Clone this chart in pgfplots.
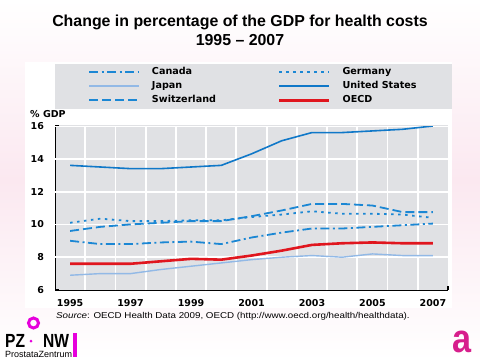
\documentclass[border=0pt]{standalone}
\usepackage{pgfplots}
\pgfplotsset{compat=1.18}
\usepackage{fontspec}
\setmainfont{Liberation Sans}
\newfontfamily\chartfont{DejaVu Sans}
\newfontfamily\srcfont[FakeStretch=1.15]{Liberation Sans}
\definecolor{cblue}{RGB}{27,135,212}
\definecolor{usblue}{RGB}{16,120,200}
\definecolor{jblue}{RGB}{146,185,230}
\definecolor{ored}{RGB}{224,22,30}
\definecolor{plotbg}{RGB}{224,225,228}
\definecolor{pinkbg}{RGB}{251,232,240}
\definecolor{logomag}{RGB}{230,0,220}
\definecolor{logopink}{RGB}{215,30,140}
\begin{document}
\begin{tikzpicture}
\useasboundingbox (0,0) rectangle (480pt,360pt);
\shade[top color=white, bottom color=white, middle color=pinkbg] (0,0) rectangle (480pt,360pt);
\fill[white] (25pt,52pt) rectangle (452pt,298pt);
\fill[plotbg] (55pt,70pt) rectangle (448pt,234.7pt);
\node[anchor=base, inner sep=0pt, font=\fontsize{15.9}{18}\selectfont\bfseries] at (240pt,333.3pt) {Change in percentage of the GDP for health costs};
\node[anchor=base, inner sep=0pt, font=\fontsize{15.9}{18}\selectfont\bfseries] at (240pt,315pt) {1995 – 2007};
\node[anchor=west, inner sep=0pt, font=\chartfont\bfseries\fontsize{9.5}{11}\selectfont] at (30pt,246pt) {\%~GDP};
\begin{axis}[
  at={(55pt,70pt)}, anchor=south west, scale only axis,
  width=393pt, height=164pt,
  xmin=1994.5, xmax=2007.5, ymin=6, ymax=16,
  axis x line*=bottom, axis y line*=left,
  axis line style={black, line width=1pt},
  xtick={1995.5,1996.5,1997.5,1998.5,1999.5,2000.5,2001.5,2002.5,2003.5,2004.5,2005.5,2006.5,2007.5},
  xticklabels={1995,,1997,,1999,,2001,,2003,,2005,,2007},
  ytick={6,8,10,12,14,16}, yticklabels={6,8,10,12,14,16},
  tick align=inside, major tick length=4.5pt,
  tick style={black, line width=1.2pt},
  ticklabel style={font=\chartfont\bfseries\fontsize{9.5}{11}\selectfont},
  xticklabel style={xshift=-15.1pt, yshift=-6pt},
  yticklabel style={xshift=-7.5pt},
  legend columns=2,
  legend cell align=left,
  legend image code/.code={\draw[#1] (0pt,0pt) -- (50pt,0pt);},
  legend style={at={(0,1)}, anchor=north west, yshift=62.7pt, fill=plotbg, draw=none,
    inner xsep=33pt, inner ysep=3.8pt,
    font=\chartfont\bfseries\fontsize{9.6}{11}\selectfont,
    nodes={inner sep=0pt, text height=7pt, text depth=2pt},
    row sep=5.2pt,
    /tikz/every odd column/.append style={column sep=12pt},
    /tikz/every even column/.append style={column sep=16pt}},
]
\pgfplotsinvokeforeach{1995.5,1996.5,1997.5,1998.5,1999.5,2000.5,2001.5,2002.5,2003.5,2004.5,2005.5,2006.5}{
  \draw[white, line width=1.8pt] (axis cs:#1,6) -- (axis cs:#1,16);}
\pgfplotsinvokeforeach{8,10,12,14,16}{
  \draw[white, line width=1.8pt] (axis cs:1994.5,#1) -- (axis cs:2007.5,#1);}
\addplot[cblue, line width=1.8pt, dash pattern=on 9pt off 3.5pt on 2pt off 3.5pt] coordinates {
(1995,9.0) (1996,8.8) (1997,8.8) (1998,8.9) (1999,8.95) (2000,8.8) (2001,9.2) (2002,9.5) (2003,9.75) (2004,9.75) (2005,9.85) (2006,9.95) (2007,10.05)};
\addlegendentry{\makebox[110pt][l]{Canada}}
\addplot[cblue, line width=1.8pt, dash pattern=on 2.5pt off 4.5pt] coordinates {
(1995,10.1) (1996,10.35) (1997,10.2) (1998,10.2) (1999,10.25) (2000,10.25) (2001,10.45) (2002,10.6) (2003,10.8) (2004,10.65) (2005,10.65) (2006,10.6) (2007,10.4)};
\addlegendentry{\makebox[76pt][l]{Germany}}
\addplot[jblue, line width=1.4pt] coordinates {
(1995,6.9) (1996,7.0) (1997,7.0) (1998,7.25) (1999,7.45) (2000,7.65) (2001,7.85) (2002,8.0) (2003,8.1) (2004,8.0) (2005,8.2) (2006,8.1) (2007,8.1)};
\addlegendentry{\makebox[110pt][l]{Japan}}
\addplot[usblue, line width=1.6pt] coordinates {
(1995,13.6) (1996,13.5) (1997,13.4) (1998,13.4) (1999,13.5) (2000,13.6) (2001,14.3) (2002,15.1) (2003,15.6) (2004,15.6) (2005,15.7) (2006,15.8) (2007,16.0)};
\addlegendentry{\makebox[76pt][l]{United States}}
\addplot[cblue, line width=1.8pt, dash pattern=on 9pt off 4pt] coordinates {
(1995,9.6) (1996,9.85) (1997,10.0) (1998,10.1) (1999,10.2) (2000,10.2) (2001,10.5) (2002,10.85) (2003,11.25) (2004,11.25) (2005,11.15) (2006,10.75) (2007,10.75)};
\addlegendentry{\makebox[110pt][l]{Switzerland}}
\addplot[ored, line width=2.6pt] coordinates {
(1995,7.6) (1996,7.6) (1997,7.6) (1998,7.75) (1999,7.9) (2000,7.85) (2001,8.1) (2002,8.4) (2003,8.75) (2004,8.85) (2005,8.9) (2006,8.85) (2007,8.85)};
\addlegendentry{\makebox[76pt][l]{OECD}}
\end{axis}
\node[anchor=base west, inner sep=0pt, font=\srcfont\fontsize{8.5}{10}\selectfont] at (56pt,41.3pt) {\textit{Source}: OECD Health Data 2009, OECD (http://www.oecd.org/health/healthdata).};
% left logo
\node[anchor=base west, inner sep=0pt, font=\bfseries\fontsize{19}{19}\selectfont] at (5pt,13pt) {\scalebox{0.82}[1]{PZ}};
\fill[logomag] (31pt,19pt) circle (1.5pt);
\node[anchor=base west, inner sep=0pt, font=\bfseries\fontsize{19}{19}\selectfont] at (43pt,13pt) {\scalebox{0.82}[1]{NW}};
\fill[logomag] (73pt,3pt) rectangle (77pt,27pt);
\draw[logomag, line width=3pt] (33.5pt,37pt) circle (5pt);
\node[anchor=base west, inner sep=0pt, font=\fontsize{9}{9}\selectfont] at (5pt,3pt) {ProstataZentrum};
% right logo
\node[anchor=base west, inner sep=0pt, font=\bfseries\fontsize{38}{38}\selectfont, text=logopink] at (452pt,8pt) {\scalebox{0.9}[1.05]{a}};
\end{tikzpicture}
\end{document}
